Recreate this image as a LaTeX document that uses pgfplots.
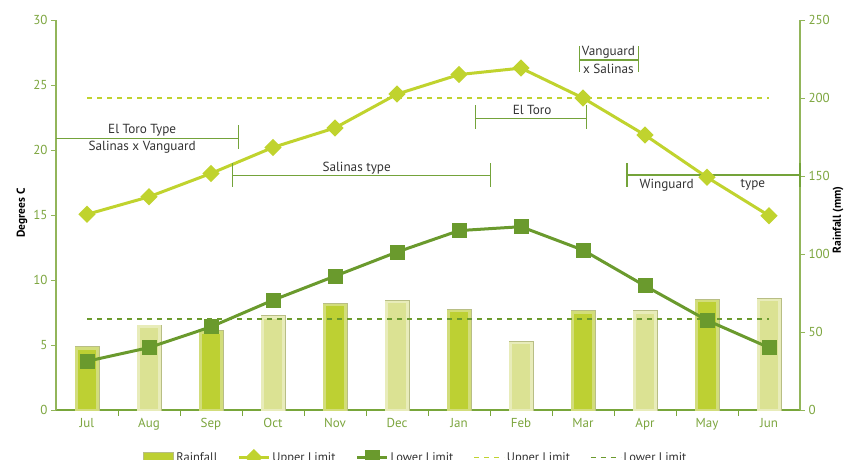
\documentclass[border=0pt]{standalone}
\usepackage{fontspec}
\setmainfont{PT Sans}
\usepackage{pgfplots}
\pgfplotsset{compat=1.18}

\definecolor{upper}{HTML}{C0D32E}
\definecolor{lower}{HTML}{6A9A2D}
\definecolor{bardark}{HTML}{BDD033}
\definecolor{bevdark}{HTML}{D2DD7B}
\definecolor{barlight}{HTML}{DBE293}
\definecolor{bevlight}{HTML}{E8ECBA}
\definecolor{barborder}{HTML}{B8BE85}
\definecolor{axisgreen}{HTML}{92B55A}
\definecolor{xaxisgreen}{HTML}{78A63A}
\definecolor{ticklab}{HTML}{7CA53E}
\definecolor{bracket}{HTML}{74A33A}
\definecolor{txt}{HTML}{333333}

\begin{document}
\begin{tikzpicture}[
  annot/.style={draw=bracket, line width=1.1pt},
  lbl/.style={text=txt, font=\fontsize{13.2}{14}\selectfont, inner sep=0pt},
  darkbar/.style={fill=bardark, preaction={draw=barborder, line width=4pt}, postaction={draw=bevdark, line width=2.4pt}},
  lightbar/.style={fill=barlight, preaction={draw=barborder, line width=4pt}, postaction={draw=bevlight, line width=2.4pt}}
]
\pgfplotsset{
  common/.style={
    scale only axis, width=744pt, height=390pt,
    xmin=-0.5, xmax=11.5, ymin=0,
    tick align=outside,
    /pgf/number format/assume math mode=true,
    tick label style={text=ticklab, font=\fontsize{13}{13}\selectfont},
    label style={font=\fontsize{11.5}{12}\selectfont\bfseries, text=black},
  }
}
% rainfall bars, right axis in mm
\begin{axis}[
  common,
  ymax=250,
  axis x line*=bottom, axis y line*=right,
  x axis line style={draw=xaxisgreen, line width=1.5pt},
  y axis line style={draw=axisgreen, line width=1.2pt},
  xtick={0,...,11},
  xticklabels={Jul,Aug,Sep,Oct,Nov,Dec,Jan,Feb,Mar,Apr,May,Jun},
  major x tick style={draw=none},
  minor x tick num=1,
  minor tick length=6pt,
  minor x tick style={draw=xaxisgreen, line width=1pt},
  ytick={0,50,...,250},
  major tick length=5pt,
  y tick style={draw=axisgreen, line width=1pt},
  ylabel={Rainfall (mm)},
  ylabel style={at={(axis description cs:1.051,0.487)}, anchor=center},
  ybar, bar width=21pt, bar shift=0pt,
]
\addplot[darkbar] coordinates {(0,39.5)(2,49.8)(4,67.5)(6,63.5)(8,62.6)(10,69.7)};
\addplot[lightbar] coordinates {(1,53.4)(3,59.4)(5,69.4)(7,42.8)(9,62.6)(11,70.5)};
\end{axis}

% temperature limits, left axis in degrees C
\begin{axis}[
  common,
  ymax=30,
  axis y line*=left, hide x axis,
  y axis line style={draw=axisgreen, line width=1.2pt},
  ytick={0,5,...,30},
  major tick length=5pt,
  y tick style={draw=axisgreen, line width=1pt},
  ylabel={Degrees C},
  ylabel style={at={(axis description cs:-0.0457,0.505)}, anchor=center},
  clip=false,
  legend columns=-1,
  legend image code/.code={\draw[mark repeat=2,mark phase=2,#1] plot coordinates {(0pt,0pt) (15pt,0pt) (30pt,0pt)};},
  legend style={draw=none, fill=none, inner sep=0pt,
    at={(axis description cs:0.117,-0.122)}, anchor=west,
    font=\fontsize{12.5}{13}\selectfont, text=txt,
    nodes={inner sep=2pt},
    /tikz/every even column/.append style={column sep=18pt}},
]
\addlegendimage{legend image code/.code={\draw[fill=bardark, draw=barborder, line width=1pt] (0pt,-5pt) rectangle (30pt,5pt);}}
\addplot[upper, line width=3pt, mark=square*, mark size=4.6pt, mark options={solid, rotate=45}] coordinates {
  (0,15.05)(1,16.4)(2,18.2)(3,20.2)(4,21.7)(5,24.3)(6,25.8)(7,26.3)(8,24.0)(9,21.15)(10,17.9)(11,14.95)};
\addplot[lower, line width=3pt, mark=square*, mark size=6pt] coordinates {
  (0,3.75)(1,4.8)(2,6.4)(3,8.45)(4,10.3)(5,12.15)(6,13.8)(7,14.1)(8,12.3)(9,9.55)(10,6.9)(11,4.8)};
\addplot[upper, line width=1.5pt, dash pattern=on 5pt off 5pt] coordinates {(0,24)(11,24)};
\addplot[lower, line width=1.5pt, dash pattern=on 5pt off 5pt] coordinates {(0,7)(11,7)};
\legend{Rainfall,Upper Limit,Lower Limit,Upper Limit,Lower Limit}

% variety brackets
\draw[annot] (axis cs:-0.5,20.9) -- (axis cs:2.45,20.9);
\draw[annot] (axis cs:2.45,21.9) -- (axis cs:2.45,20.05);
\node[lbl] at (axis cs:0.89,21.5) {El Toro Type};
\node[lbl] at (axis cs:0.89,20.2) {Salinas x Vanguard};

\draw[annot] (axis cs:2.35,18.02) -- (axis cs:6.51,18.02);
\draw[annot] (axis cs:2.35,18.98) -- (axis cs:2.35,17.13);
\draw[annot] (axis cs:6.51,18.98) -- (axis cs:6.51,17.13);
\node[lbl] at (axis cs:4.35,18.6) {Salinas type};

\draw[annot] (axis cs:6.27,22.44) -- (axis cs:8.06,22.44);
\draw[annot] (axis cs:6.27,23.46) -- (axis cs:6.27,21.6);
\draw[annot] (axis cs:8.06,23.46) -- (axis cs:8.06,21.6);
\node[lbl] at (axis cs:7.18,23.08) {El Toro};

\draw[annot] (axis cs:7.94,26.92) -- (axis cs:8.89,26.92);
\draw[annot] (axis cs:7.94,28.0) -- (axis cs:7.94,26.0);
\draw[annot] (axis cs:8.89,28.0) -- (axis cs:8.89,26.0);
\node[lbl] at (axis cs:8.41,27.48) {Vanguard};
\node[lbl] at (axis cs:8.41,26.21) {x Salinas};

\draw[annot] (axis cs:8.71,18.08) -- (axis cs:11.5,18.08);
\draw[annot] (axis cs:8.71,18.98) -- (axis cs:8.71,17.13);
\draw[annot] (axis cs:11.5,18.98) -- (axis cs:11.5,17.13);
\node[lbl] at (axis cs:9.35,17.3) {Winguard};
\node[lbl] at (axis cs:10.74,17.3) {type};
\end{axis}
\pgfresetboundingbox
\path[use as bounding box] (-56pt,-49pt) rectangle (791pt,410pt);
\end{tikzpicture}
\end{document}
